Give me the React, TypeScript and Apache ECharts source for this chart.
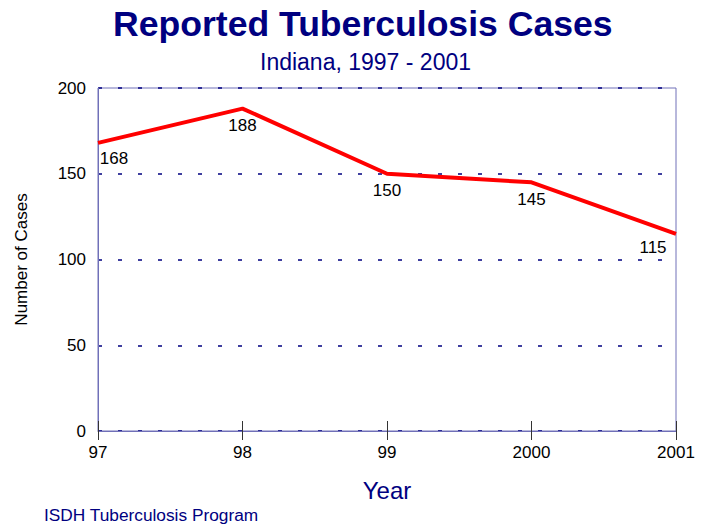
import React, { useEffect, useRef } from "react";
import * as echarts from "echarts";

const years = ["97", "98", "99", "2000", "2001"];
const cases = [168, 188, 150, 145, 115];
const labelOffsets: [number, number][] = [[16, 2], [0, 3], [0, 3], [0, 3], [-23, 0]];

const NAVY = "#000080";
const FONT = "Liberation Sans, Arial, sans-serif";

export default function App() {
  const ref = useRef<HTMLDivElement>(null);
  useEffect(() => {
    if (!ref.current) return;
    const chart = echarts.init(ref.current, null, { renderer: "svg" });
    chart.setOption({
      animation: false,
      backgroundColor: "#ffffff",
      textStyle: { fontFamily: FONT },
      title: [
        {
          text: "Reported Tuberculosis Cases",
          left: 108,
          top: 1,
          textStyle: { fontFamily: FONT, fontSize: 35.6, fontWeight: "bold", color: NAVY },
        },
        {
          text: "Indiana, 1997 - 2001",
          left: 255,
          top: 45,
          textStyle: { fontFamily: FONT, fontSize: 23, fontWeight: "normal", color: NAVY },
        },
        {
          text: "ISDH Tuberculosis Program",
          left: 39,
          top: 501,
          textStyle: { fontFamily: FONT, fontSize: 17.3, fontWeight: "normal", color: NAVY },
        },
      ],
      grid: {
        left: 98,
        right: 38,
        top: 88,
        bottom: 93,
        show: true,
        borderColor: "#7070b8",
        borderWidth: 1,
      },
      xAxis: [
        {
          type: "category",
          data: years,
          boundaryGap: false,
          name: "Year",
          nameLocation: "middle",
          nameGap: 47,
          nameTextStyle: { fontFamily: FONT, fontSize: 24, color: NAVY },
          axisLine: { show: true, lineStyle: { color: "#7070b8", width: 1 } },
          axisTick: { show: true, length: 9, lineStyle: { color: "#333333" } },
          axisLabel: { color: "#000000", fontSize: 17, margin: 13, fontFamily: FONT },
          splitLine: { show: false },
        },
        {
          type: "category",
          data: years,
          boundaryGap: false,
          position: "bottom",
          axisLine: { show: false },
          axisTick: { show: true, inside: true, length: 10, lineStyle: { color: "#333333" } },
          axisLabel: { show: false },
          splitLine: { show: false },
        },
      ],
      yAxis: {
        type: "value",
        min: 0,
        max: 200,
        interval: 50,
        name: "Number of Cases",
        nameLocation: "middle",
        nameGap: 68,
        nameRotate: 90,
        nameTextStyle: { fontFamily: FONT, fontSize: 17, color: "#000000" },
        axisLine: { show: true, lineStyle: { color: "#7070b8", width: 1 } },
        axisTick: { show: false },
        axisLabel: { color: "#000000", fontSize: 17, margin: 12, fontFamily: FONT },
        splitLine: {
          show: true,
          lineStyle: { color: NAVY, width: 1.5, type: [4, 16] },
        },
      },
      series: [
        {
          type: "line",
          xAxisIndex: 0,
          data: cases.map((v, i) => ({
            value: v,
            label: { offset: labelOffsets[i] },
          })),
          showSymbol: true,
          symbol: "circle",
          symbolSize: 1,
          itemStyle: { color: "rgba(255,0,0,0)", borderWidth: 0 },
          lineStyle: { color: "#ff0000", width: 4 },
          label: {
            show: true,
            position: "bottom",
            distance: 5,
            color: "#000000",
            fontSize: 17,
            fontFamily: FONT,
          },
        },
      ],
    });
    return () => chart.dispose();
  }, []);
  return <div ref={ref} style={{ width: 714, height: 524, position: "absolute", left: 0, top: 0 }} />;
}
